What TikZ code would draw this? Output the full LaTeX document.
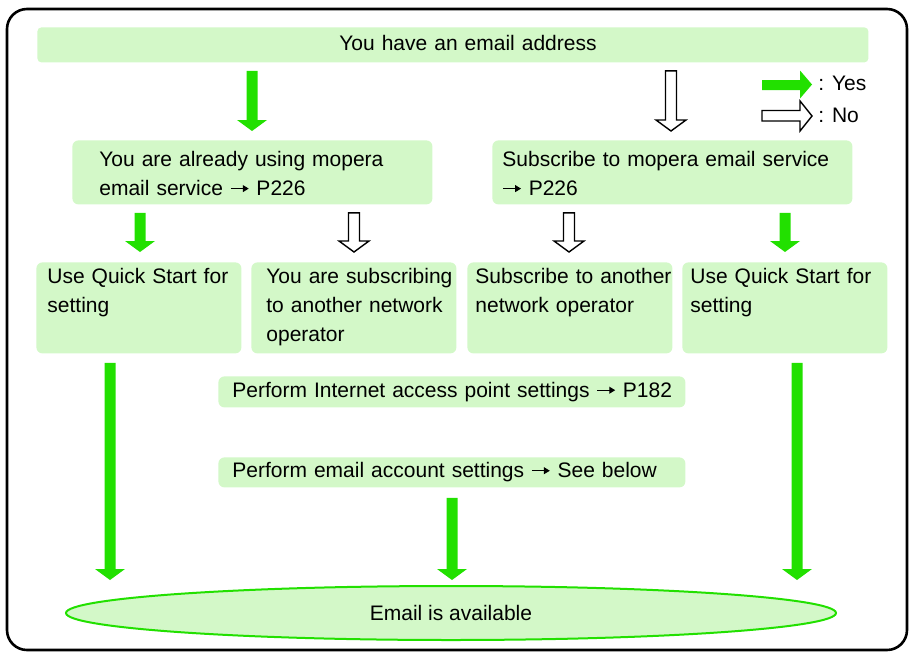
\documentclass[tikz,border=0pt]{standalone}
\usepackage{fontspec}
\setmainfont{Liberation Sans}
\usetikzlibrary{shapes.geometric, arrows.meta, calc}
\definecolor{BoxGreen}{RGB}{211,248,200}
\definecolor{ArrowGreen}{RGB}{34,224,0}

% small page-reference arrow used inside the texts
\newcommand{\pto}{\tikz[baseline=0pt]\draw[-{Triangle[length=3pt,width=3.4pt]}, line width=0.7pt] (0pt,3.6pt) -- (9pt,3.6pt);}

% thick block arrow pointing down, from #2 to #3
\newcommand{\blockdown}[3]{%
  \path[#1] let \p1=(#2), \p2=(#3) in
    (\x1-2.75pt,\y1) -- (\x1-2.75pt,\y2+5.5pt) -- (\x1-7.5pt,\y2+5.5pt) -- (\x1,\y2)
    -- (\x1+7.5pt,\y2+5.5pt) -- (\x1+2.75pt,\y2+5.5pt) -- (\x1+2.75pt,\y1) -- cycle;}

\begin{document}
\begin{tikzpicture}[x=0.5pt, y=-0.5pt,
    font=\fontsize{10.5pt}{14.5pt}\selectfont,
    bx/.style={rectangle, fill=BoxGreen, rounded corners=3pt, anchor=north west, inner sep=0pt, align=left},
    inset/.style={execute at begin node={\leftskip=#1\rightskip=-12pt plus 1fil}},
    tworow/.style={text width=180pt, text height=13.2pt, text depth=18.8pt},
    threerow/.style={text width=102.5pt, text height=10.7pt, text depth=34.8pt},
    onerow/.style={text height=8pt, text depth=2.5pt},
    yesarr/.style={fill=ArrowGreen},
    noarr/.style={draw=black, fill=white, line width=0.7pt, line join=miter},
    key/.style={anchor=base west, inner sep=0pt}
  ]
  \useasboundingbox (0,0) rectangle (910,653);
  \draw[line width=1.3pt, rounded corners=10pt] (7,9) rectangle (907,650);

  \node[bx, onerow, text width=415.5pt, minimum height=17.5pt, rounded corners=2pt, inset=151pt] (email) at (37,27) {You have an email address};

  \node[bx, tworow, inset=13.5pt] (using) at (72,140) {You are already using mopera\\email service \pto{} P226};
  \node[bx, tworow, inset=5pt] (subscr) at (492,140) {Subscribe to mopera email service\\\pto{} P226};

  \node[bx, threerow, inset=5.5pt] (qs1) at (36,262) {Use Quick Start for\\setting};
  \node[bx, threerow, inset=7.5pt] (netop) at (251,262) {You are subscribing\\to another network\\operator};
  \node[bx, threerow, inset=4pt] (other) at (467,262) {Subscribe to another\\network operator};
  \node[bx, threerow, inset=4pt] (qs2) at (682,262) {Use Quick Start for\\setting};

  \node[bx, onerow, text width=233.5pt, minimum height=15.5pt, inset=7pt] (apn) at (218,376) {Perform Internet access point settings \pto{} P182};
  \node[bx, onerow, text width=233.5pt, minimum height=15pt, inset=7pt] (acct) at (218,457) {Perform email account settings \pto{} See below};

  \node[ellipse, draw=ArrowGreen, line width=1pt, fill=BoxGreen, minimum width=385pt, minimum height=27pt, inner sep=0pt] (avail) at (451,613) {Email is available};

  % arrows
  \blockdown{yesarr}{$(252,0 |- email.south)+(0,8)$}{$(252,0 |- using.north)+(0,-9)$}
  \blockdown{noarr}{$(671,0 |- email.south)+(0,8)$}{$(671,0 |- subscr.north)+(0,-9)$}
  \blockdown{yesarr}{$(140,0 |- using.south)+(0,8)$}{$(140,0 |- qs1.north)+(0,-10)$}
  \blockdown{noarr}{$(354,0 |- using.south)+(0,8)$}{$(354,0 |- netop.north)+(0,-10)$}
  \blockdown{noarr}{$(569,0 |- subscr.south)+(0,8)$}{$(569,0 |- other.north)+(0,-10)$}
  \blockdown{yesarr}{$(785,0 |- subscr.south)+(0,8)$}{$(785,0 |- qs2.north)+(0,-10)$}
  \blockdown{yesarr}{$(110,0 |- qs1.south)+(0,9)$}{$(110,0 |- avail.north)+(0,-5)$}
  \blockdown{yesarr}{$(452,0 |- acct.south)+(0,10)$}{$(452,0 |- avail.north)+(0,-5)$}
  \blockdown{yesarr}{$(797,0 |- qs2.south)+(0,9)$}{$(797,0 |- avail.north)+(0,-5)$}

  % legend
  \fill[ArrowGreen] (762,80) -- (800,80) -- (800,70.5) -- (812,84.5) -- (800,98.5) -- (800,90) -- (762,90) -- cycle;
  \draw[noarr] (762,110.5) -- (800,110.5) -- (800,101) -- (812,116) -- (800,131) -- (800,121) -- (762,121) -- cycle;
  \node[key] (yes) at (818,90) {: Yes};
  \node[key] (no) at (818,122) {: No};
\end{tikzpicture}
\end{document}
